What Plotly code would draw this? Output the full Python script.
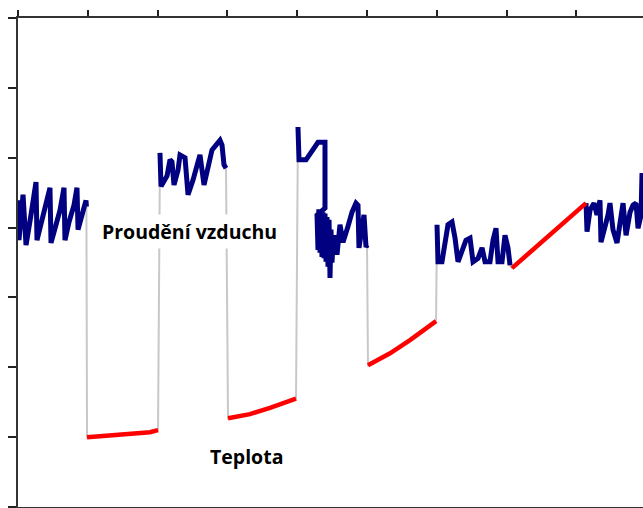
import plotly.graph_objects as go

# Time in minutes, values in chart units (ticks every 10)
flow1_t = [0, 0.14, 0.72, 1.15, 1.86, 2.58, 2.72, 3.30, 4.01, 4.58, 4.73, 5.30, 6.02, 6.59,
           6.73, 7.31, 8.02, 8.45, 8.60, 9.17, 9.74, 9.80]
flow1_v = [43.9, 38.2, 44.7, 37.5, 41.8, 46.5, 38.2, 40.4, 43.2, 45.7, 37.8, 39.7, 42.5, 45.7,
           38.2, 40.8, 43.2, 45.7, 39.7, 41.8, 43.9, 43.0]

temp1_t = [9.89, 13.18, 16.05, 18.91, 20.06]
temp1_v = [10.0, 10.2, 10.4, 10.7, 11.0]

flow2_t = [20.34, 20.49, 21.35, 21.78, 22.06, 22.35, 22.92, 23.21, 23.93, 24.36, 25.07, 25.64,
           26.07, 26.65, 27.36, 27.79, 28.37, 28.94, 29.23, 29.51, 29.80]
flow2_v = [50.7, 45.9, 47.4, 49.7, 49.4, 46.1, 48.2, 50.4, 50.0, 44.7, 46.8, 49.0,
           50.4, 46.1, 49.0, 51.1, 51.8, 52.5, 51.8, 49.0, 48.5]

temp2_t = [30.09, 33.24, 36.10, 39.83]
temp2_v = [12.7, 13.3, 14.2, 15.5]

flow3_t = [40.11, 40.20, 40.26, 41.26, 42.12, 42.98, 43.70, 43.98, 43.98, 42.84, 42.98, 43.10,
           43.27, 43.41, 43.55, 43.70, 43.84, 43.98, 44.13, 44.27, 44.41, 44.56, 44.70, 44.84,
           44.98, 45.13, 45.42, 45.70, 46.13, 46.56, 47.28, 47.85, 48.42, 48.71, 48.85, 49.57,
           49.86, 50.00]
flow3_v = [54.4, 52.0, 49.7, 49.7, 51.1, 52.2, 52.2, 52.2, 42.8, 41.8, 36.8, 42.6,
           36.4, 42.5, 35.8, 42.2, 35.6, 42.0, 35.1, 41.5, 34.4, 41.1, 32.8, 39.7,
           35.0, 37.5, 38.9, 36.1, 40.4, 37.9, 40.2, 42.2, 43.5, 43.2, 37.1, 41.8,
           37.2, 37.5]

temp3_t = [50.14, 53.30, 56.16, 59.89]
temp3_v = [20.3, 22.0, 23.9, 26.6]

flow4_t = [60.03, 60.17, 60.74, 61.17, 61.60, 62.18, 62.61, 63.04, 63.61, 64.18, 64.76, 65.19,
           65.90, 66.48, 66.91, 67.62, 68.05, 68.48, 68.77, 69.34, 69.77, 70.20, 70.49]
flow4_v = [40.4, 35.1, 35.1, 38.2, 40.4, 40.8, 38.5, 35.1, 36.8, 38.2, 38.5, 35.1,
           35.6, 37.1, 35.1, 35.1, 38.2, 39.9, 35.1, 35.1, 38.9, 37.1, 34.6]

temp4_t = [70.77, 81.38]
temp4_v = [34.2, 43.5]

flow5_t = [81.38, 81.52, 81.95, 82.52, 82.95, 83.38, 83.52, 84.10, 84.53, 84.81, 85.24, 85.82,
           86.25, 86.68, 87.11, 87.68, 88.11, 88.54, 88.83, 89.26, 89.40]
flow5_v = [43.5, 39.4, 42.5, 43.5, 41.8, 43.9, 37.9, 39.9, 41.8, 43.5, 39.7, 37.8,
           40.4, 43.5, 38.9, 42.2, 43.2, 43.5, 39.9, 41.8, 47.8]

flow_segments = [(flow1_t, flow1_v), (flow2_t, flow2_v), (flow3_t, flow3_v),
                 (flow4_t, flow4_v), (flow5_t, flow5_v)]
temp_segments = [(temp1_t, temp1_v), (temp2_t, temp2_v), (temp3_t, temp3_v),
                 (temp4_t, temp4_v)]

x_ticks = [0, 10, 20, 30, 40, 50, 60, 70, 80]
y_ticks = [0, 10, 20, 30, 40, 50, 60, 70]

label_flow = "Proudění vzduchu"
label_temp = "Teplota"

# Full record in time order: the thin grey trace joins the phases
order = [flow_segments[0], temp_segments[0], flow_segments[1], temp_segments[1],
         flow_segments[2], temp_segments[2], flow_segments[3], temp_segments[3],
         flow_segments[4]]
all_t, all_v = [], []
for t, v in order:
    all_t += t
    all_v += v


def joined(segments):
    xs, ys = [], []
    for t, v in segments:
        xs += list(t) + [None]
        ys += list(v) + [None]
    return xs, ys


fig = go.Figure()
fig.add_trace(go.Scatter(x=all_t, y=all_v, mode="lines",
                         line=dict(color="#c8c8c8", width=2), hoverinfo="skip"))
fx, fy = joined(flow_segments)
fig.add_trace(go.Scatter(x=fx, y=fy, mode="lines", name=label_flow,
                         line=dict(color="#000080", width=5)))
tx, ty = joined(temp_segments)
fig.add_trace(go.Scatter(x=tx, y=ty, mode="lines", name=label_temp,
                         line=dict(color="#ff0000", width=4.5)))

fig.add_annotation(x=24.6, y=39.5, text=f"<b>{label_flow}</b>", showarrow=False,
                   font=dict(family="Open Sans", size=19.5, color="#000000"),
                   bgcolor="#ffffff", borderpad=3)
fig.add_annotation(x=32.8, y=7.2, text=f"<b>{label_temp}</b>", showarrow=False,
                   font=dict(family="Open Sans", size=19.5, color="#000000"),
                   bgcolor="#ffffff", borderpad=3)

fig.update_layout(
    width=643, height=508,
    margin=dict(l=18, r=0, t=18, b=1),
    paper_bgcolor="#ffffff", plot_bgcolor="#ffffff",
    showlegend=False,
    xaxis=dict(range=[0, 89.54], side="top", tickvals=x_ticks, showticklabels=False,
               ticks="outside", ticklen=6, tickwidth=2, tickcolor="#222222",
               showline=True, linecolor="#333333", linewidth=2, mirror=True,
               showgrid=False, zeroline=False),
    yaxis=dict(range=[0, 70], tickvals=y_ticks, showticklabels=False,
               ticks="outside", ticklen=8, tickwidth=2, tickcolor="#222222",
               showline=True, linecolor="#333333", linewidth=2,
               showgrid=False, zeroline=False),
)

fig.write_html("out.html")
